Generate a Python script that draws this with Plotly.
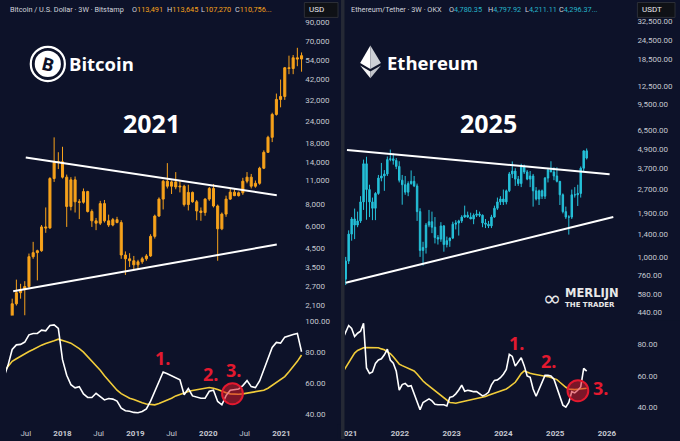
import plotly.graph_objects as go
import pandas as pd

W, H = 680, 441
BG = "#0d1229"
TICK = "#c5c8d0"
BTC_C = "#f7a21b"
ETH_C = "#25c1d9"
ETH_TXT = "#26b5c9"
WHITE_L = "#ffffff"
YEL_L = "#f1cc3a"
RED = "#e3192f"

# ---------------- Bitcoin (3W candles) ----------------
btc_start = "2017-03-13"
btc_open = [1050, 1200, 1550, 2150, 2490, 2600, 2700, 4010, 4230, 4340, 5950, 5870, 11300, 14000, 14100,
            11500, 7800, 11100, 8300, 8250, 9500, 7300, 6450, 6250, 8100, 6450, 6100, 6550, 6300, 4100,
            3900, 3800, 3600, 3750, 3900, 4050, 5250, 6870, 8600, 10900, 10200, 10800, 10100, 10200, 8000,
            9400, 8300, 7350, 7200, 8600, 9900, 7850, 5800, 7050, 8600, 9430, 9000, 9350, 10900, 11500,
            10200, 10600, 12950, 15980, 19500, 26400, 32200, 33500, 49000, 48500, 55900, 55000]
btc_high = [1300, 1550, 2300, 2960, 2800, 2900, 4180, 4880, 4400, 6100, 7700, 11500, 19480, 16000, 17200,
            11900, 11500, 11600, 8600, 9900, 9600, 7500, 6700, 8400, 8500, 7000, 6700, 6800, 6500, 4300,
            4200, 4050, 3850, 4000, 4150, 5400, 7000, 8800, 11100, 13850, 11000, 12300, 10900, 10400, 10400,
            9500, 8500, 7700, 8700, 10100, 10500, 8000, 7200, 9000, 9900, 9900, 9500, 11400, 12300, 12000,
            11000, 13200, 16400, 19900, 27000, 34800, 41900, 49500, 57500, 58000, 63800, 60000]
btc_low = [950, 1150, 1500, 2100, 2300, 1840, 2650, 3900, 2930, 4280, 5500, 5800, 10800, 12800, 11300,
           5950, 7400, 7200, 6600, 8100, 7200, 5950, 5700, 6100, 6300, 5950, 6000, 6250, 3900, 3150,
           3500, 3350, 3380, 3650, 3800, 4000, 5100, 6800, 7500, 9900, 9200, 9800, 9400, 7800, 7400,
           8200, 6500, 6450, 6900, 8400, 7700, 3800, 5700, 6800, 8500, 8950, 8900, 9100, 10600, 9900,
           10000, 10400, 12800, 15900, 18300, 26000, 29000, 32000, 45000, 45000, 50000, 46500]
btc_close = [1200, 1550, 2150, 2490, 2600, 2700, 4010, 4230, 4340, 5950, 5870, 11300, 14000, 14100, 11500,
             7800, 11100, 8300, 8250, 9500, 7300, 6450, 6250, 8100, 6450, 6100, 6550, 6300, 4100, 3900,
             3800, 3600, 3750, 3900, 4050, 5250, 6870, 8600, 10900, 10200, 10800, 10100, 10200, 8000, 9400,
             8300, 7350, 7200, 8600, 9900, 7850, 5800, 7050, 8600, 9430, 9000, 9350, 10900, 11500, 10200,
             10600, 12950, 15980, 19500, 26400, 32200, 33500, 49000, 48500, 55900, 55000, 57500]
btc_white = [63.9, 71.6, 81.9, 84.9, 85.2, 86.7, 91.4, 92.3, 92.3, 94.4, 94.0, 97.4, 97.8, 95.5, 75.3,
             65.2, 59.1, 57.0, 57.8, 53.1, 50.8, 50.8, 53.5, 51.6, 49.2, 50.1, 49.7, 48.4, 43.9, 42.2,
             41.9, 41.1, 40.9, 41.7, 43.4, 48.4, 54.4, 61.3, 67.3, 66.2, 64.9, 63.4, 62.2, 52.5, 56.6,
             51.8, 51.0, 50.3, 50.3, 54.8, 55.5, 48.2, 46.0, 52.0, 55.5, 55.7, 56.3, 58.5, 61.7, 57.8,
             57.2, 61.5, 68.6, 77.0, 83.2, 86.5, 86.0, 89.9, 91.0, 91.6, 92.3, 80.4]
btc_yellow = [67.5, 70.8, 74.2, 75.9, 77.6, 79.4, 80.6, 81.9, 83.4, 84.7, 85.8, 86.5, 87.5, 88.6, 88.0,
              86.9, 86.0, 84.3, 82.4, 80.2, 77.4, 74.6, 71.6, 68.4, 64.9, 61.9, 58.7, 55.5, 53.3, 51.6,
              50.3, 49.5, 48.2, 47.3, 46.5, 46.2, 46.0, 46.9, 48.0, 49.0, 50.3, 51.8, 52.9, 54.0, 54.6,
              55.3, 55.9, 56.6, 56.8, 57.2, 56.8, 55.9, 54.6, 53.8, 53.1, 52.9, 52.9, 53.1, 53.5, 54.0,
              54.4, 54.8, 55.5, 56.8, 58.7, 60.4, 62.4, 64.3, 67.5, 70.5, 74.2, 78.3]
btc_up_dates = ["2017-07-01", "2020-12-09"]
btc_up_vals = [14900, 9060]
btc_lo_dates = ["2017-04-29", "2020-12-09"]
btc_lo_vals = [2535, 4710]
btc_yticks = [2100, 2700, 3500, 4500, 6000, 8000, 11000, 14000, 18000, 24000, 32000, 42000, 54000, 70000, 90000]
btc_ind_ticks = [40, 60, 80, 100]
btc_xtick_vals = ["2017-07-01", "2018-01-01", "2018-07-01", "2019-01-01", "2019-07-01", "2020-01-01",
                  "2020-07-01", "2021-01-01"]
btc_xtick_text = ["Jul", "<b>2018</b>", "Jul", "<b>2019</b>", "Jul", "<b>2020</b>", "Jul", "<b>2021</b>"]
btc_xrange = ["2017-03-24", "2021-04-26"]

# ---------------- Ethereum (3W candles) ----------------
eth_start = "2020-11-23"
eth_open = [560, 720, 940, 1400, 1750, 1600, 1700, 2250, 3950, 2700, 2250, 2050, 2550, 3200, 3300, 3400,
            4200, 4250, 4150, 3800, 3100, 2900, 2600, 2950, 3050, 2850, 1950, 1100, 1150, 1600, 1680,
            1550, 1330, 1300, 1580, 1200, 1270, 1320, 1620, 1650, 1700, 1800, 1850, 1800, 1750, 1850,
            1880, 1850, 1650, 1620, 1580, 1800, 2050, 2250, 2350, 2250, 2650, 3400, 3550, 3150, 2950,
            3800, 3500, 3150, 3300, 2650, 2350, 2650, 2450, 3200, 3600, 3500, 3300, 3050, 2500, 1950,
            1800, 1800, 2500, 2500, 2550, 3700, 4780]
eth_high = [750, 1000, 1480, 1800, 2040, 1950, 2450, 4200, 4380, 2900, 2400, 2600, 3350, 4000, 3600, 4400,
            4870, 4600, 4300, 4100, 3350, 3300, 3050, 3580, 3300, 2950, 2050, 1250, 1650, 2000, 1950,
            1800, 1380, 1670, 1600, 1350, 1330, 1680, 1720, 1730, 1850, 2130, 1950, 1920, 1900, 2000,
            1950, 1870, 1750, 1700, 1860, 2130, 2400, 2450, 2700, 2700, 3500, 4090, 3700, 3300, 3950,
            3900, 3600, 3550, 3400, 2800, 2700, 2700, 3250, 3700, 4100, 3750, 3750, 3050, 2550, 2100,
            1850, 2700, 2800, 2900, 3800, 4800, 4950]
eth_low = [530, 660, 900, 1270, 1300, 1550, 1650, 2000, 1730, 1800, 1720, 1720, 2500, 3050, 2650, 3300,
           4100, 3900, 3650, 3000, 2160, 2500, 2450, 2900, 2800, 1700, 1000, 880, 1050, 1550, 1420,
           1220, 1200, 1250, 1080, 1150, 1160, 1300, 1500, 1370, 1650, 1780, 1780, 1750, 1620, 1800,
           1800, 1550, 1530, 1530, 1530, 1780, 2000, 2150, 2150, 2170, 2600, 3200, 2850, 2850, 2800,
           3400, 3100, 2800, 2100, 2300, 2150, 2350, 2350, 3000, 3500, 3100, 3000, 2150, 1900, 1750,
           1390, 1750, 2400, 2120, 2400, 3500, 4211]
eth_close = [720, 940, 1400, 1750, 1600, 1700, 2250, 3950, 2700, 2250, 2050, 2550, 3200, 3300, 3400, 4200,
             4250, 4150, 3800, 3100, 2900, 2600, 2950, 3050, 2850, 1950, 1100, 1150, 1600, 1680, 1550,
             1330, 1300, 1580, 1200, 1270, 1320, 1620, 1650, 1700, 1800, 1850, 1800, 1750, 1850, 1880,
             1850, 1650, 1620, 1580, 1800, 2050, 2250, 2350, 2250, 2650, 3400, 3550, 3150, 2950, 3800,
             3500, 3150, 3300, 2650, 2350, 2650, 2450, 3200, 3600, 3500, 3300, 3050, 2500, 1950, 1800,
             1800, 2500, 2500, 2550, 3700, 4780, 4296]
eth_white = [83.6, 88.3, 92.1, 90.2, 85.1, 87.2, 88.5, 93.5, 65.0, 61.5, 62.5, 67.9, 70.1, 70.9, 73.4,
             77.0, 70.1, 68.1, 62.9, 50.8, 54.4, 55.2, 53.3, 53.7, 48.7, 43.0, 38.3, 43.0, 44.4, 45.3,
             44.0, 41.9, 41.5, 41.5, 41.5, 40.8, 46.3, 46.8, 48.5, 51.0, 54.0, 50.2, 50.8, 50.4, 49.9,
             49.9, 48.3, 47.2, 48.0, 49.5, 54.2, 57.1, 57.4, 58.8, 61.0, 64.1, 73.7, 72.4, 66.2, 68.6,
             71.5, 66.5, 59.9, 59.0, 51.6, 47.0, 51.4, 55.2, 60.3, 60.3, 59.9, 57.8, 52.3, 45.5, 41.3,
             40.0, 43.0, 49.9, 49.1, 50.8, 52.9, 64.8, 63.0]
eth_yellow = [62.2, 65.4, 68.8, 71.7, 74.5, 76.2, 77.2, 77.9, 78.1, 78.1, 78.1, 77.9, 77.9, 77.2, 76.6,
              75.3, 74.1, 72.2, 69.8, 67.5, 66.5, 65.6, 64.8, 63.9, 63.1, 61.2, 58.6, 56.7, 55.0, 53.5,
              52.1, 50.4, 48.7, 47.2, 45.7, 44.4, 43.0, 42.8, 42.5, 43.0, 43.4, 44.0, 44.4, 45.1, 45.5,
              45.9, 46.1, 46.6, 46.8, 47.6, 48.3, 48.9, 49.5, 50.2, 50.8, 51.6, 52.9, 54.2, 55.9, 58.6,
              61.4, 63.1, 62.2, 61.6, 61.2, 60.7, 60.3, 60.1, 59.7, 59.5, 58.8, 58.2, 57.6, 55.9, 54.0,
              52.7, 51.6, 51.2, 51.2, 51.4, 51.6, 51.9, 52.1]
eth_up_dates = ["2020-12-23", "2026-01-20"]
eth_up_vals = [4840, 3390]
eth_lo_dates = ["2020-12-14", "2026-02-15"]
eth_lo_vals = [683, 1800]
eth_yticks = [440, 580, 760, 1000, 1400, 1900, 2700, 3700, 4900, 6500, 9500, 12500, 18500, 24500, 32500]
eth_ind_ticks = [40, 60, 80]
eth_xtick_vals = ["2021-01-01", "2022-01-01", "2023-01-01", "2024-01-01", "2025-01-01", "2026-01-01"]
eth_xtick_text = ["<b>2021</b>", "<b>2022</b>", "<b>2023</b>", "<b>2024</b>", "<b>2025</b>", "<b>2026</b>"]
eth_xrange = ["2020-12-09", "2026-07-28"]

# ---------------- texts ----------------
btc_pair = "Bitcoin / U.S. Dollar · 3W · Bitstamp"
btc_ohlc = ["113,491", "113,645", "107,270", "110,756..."]
eth_pair = "Ethereum/Tether · 3W · OKX"
eth_ohlc = ["4,780.35", "4,797.92", "4,211.11", "4,296.37..."]
ohlc_labels = ["O", "H", "L", "C"]

btc_dates = pd.date_range(btc_start, periods=len(btc_open), freq="21D")
eth_dates = pd.date_range(eth_start, periods=len(eth_open), freq="21D")


def px(x):
    return x / W


def py(y):
    return 1 - y / H


fig = go.Figure()


def candles(dates, o, h, l, c, col, xa, ya):
    return go.Candlestick(
        x=dates, open=o, high=h, low=l, close=c, xaxis=xa, yaxis=ya,
        increasing=dict(line=dict(color=col, width=1), fillcolor=col),
        decreasing=dict(line=dict(color=col, width=1), fillcolor=col),
        showlegend=False, hoverinfo="skip")


def line(x, y, col, w, xa, ya):
    return go.Scatter(x=x, y=y, mode="lines", line=dict(color=col, width=w),
                      xaxis=xa, yaxis=ya, showlegend=False, hoverinfo="skip")


fig.add_trace(candles(btc_dates, btc_open, btc_high, btc_low, btc_close, BTC_C, "x", "y"))
fig.add_trace(line(btc_up_dates, btc_up_vals, "white", 2, "x", "y"))
fig.add_trace(line(btc_lo_dates, btc_lo_vals, "white", 2, "x", "y"))
fig.add_trace(line(btc_dates, btc_yellow, YEL_L, 1.6, "x2", "y2"))
fig.add_trace(line(btc_dates, btc_white, WHITE_L, 1.6, "x2", "y2"))

fig.add_trace(candles(eth_dates, eth_open, eth_high, eth_low, eth_close, ETH_C, "x3", "y3"))
fig.add_trace(line(eth_up_dates, eth_up_vals, "white", 2, "x3", "y3"))
fig.add_trace(line(eth_lo_dates, eth_lo_vals, "white", 2, "x3", "y3"))
fig.add_trace(line(eth_dates, eth_yellow, YEL_L, 1.6, "x4", "y4"))
fig.add_trace(line(eth_dates, eth_white, WHITE_L, 1.6, "x4", "y4"))

common = dict(showgrid=False, zeroline=False, showline=False, ticks="", fixedrange=True)
tf = dict(size=8, color=TICK, family="Roboto")
LDOM = [0, px(301)]
RDOM = [px(342), px(636)]
PDOM_L = [py(317), py(15)]
PDOM_R = [py(317), py(17)]
IDOM = [py(429), py(319)]

fig.update_layout(
    width=W, height=H, margin=dict(l=0, r=0, t=0, b=0),
    paper_bgcolor=BG, plot_bgcolor=BG, showlegend=False,
    font=dict(family="Roboto", color=TICK, size=8),
    xaxis=dict(domain=LDOM, range=btc_xrange, anchor="y", type="date", showticklabels=False,
               rangeslider=dict(visible=False), **common),
    xaxis2=dict(domain=LDOM, range=btc_xrange, anchor="y2", type="date", tickvals=btc_xtick_vals,
                ticktext=btc_xtick_text, tickfont=tf, **common),
    yaxis=dict(domain=PDOM_L, type="log", range=[3.2645, 4.994], side="right", anchor="x",
               tickvals=btc_yticks, ticktext=[f"{v:,}" for v in btc_yticks], tickfont=tf, **common),
    yaxis2=dict(domain=IDOM, range=[31.6, 102.6], side="right", anchor="x2",
                tickvals=btc_ind_ticks, ticktext=[f"{v:.2f}" for v in btc_ind_ticks], tickfont=tf, **common),
    xaxis3=dict(domain=RDOM, range=eth_xrange, anchor="y3", type="date", showticklabels=False,
                rangeslider=dict(visible=False), **common),
    xaxis4=dict(domain=RDOM, range=eth_xrange, anchor="y4", type="date", tickvals=eth_xtick_vals,
                ticktext=eth_xtick_text, tickfont=tf, **common),
    yaxis3=dict(domain=PDOM_R, type="log", range=[2.6242, 4.5375], side="right", anchor="x3",
                tickvals=eth_yticks, ticktext=[f"{v:,.2f}" for v in eth_yticks], tickfont=tf, **common),
    yaxis4=dict(domain=IDOM, range=[27.3, 97.2], side="right", anchor="x4",
                tickvals=eth_ind_ticks, ticktext=[f"{v:.2f}" for v in eth_ind_ticks], tickfont=tf, **common),
)

shapes = []


def rect(x0, y0, x1, y1, fill, lc=None, lw=0):
    return dict(type="rect", xref="paper", yref="paper", x0=px(x0), x1=px(x1), y0=py(y1), y1=py(y0),
                fillcolor=fill, line=dict(color=lc or fill, width=lw), layer="above")


def circ(cx, cy, r, fill, lc, lw):
    return dict(type="circle", xref="paper", yref="paper", x0=px(cx - r), x1=px(cx + r),
                y0=py(cy + r), y1=py(cy - r), fillcolor=fill, line=dict(color=lc, width=lw), layer="above")


def poly(pts, fill):
    d = "M " + " L ".join(f"{px(a):.5f},{py(b):.5f}" for a, b in pts) + " Z"
    return dict(type="path", xref="paper", yref="paper", path=d, fillcolor=fill,
                line=dict(width=0), layer="above")


# panel divider and clipping
shapes.append(rect(334, 426, 338, 441, BG))
shapes.append(rect(338, 0, 341.5, 441, "#252935"))
shapes.append(rect(636, 0, 680, 18.5, BG))
shapes.append(rect(636, 316.5, 680, 322, BG))
# badges
shapes.append(rect(301, 2.5, 335, 17.5, "#0f1116", "#2c2f38", 1))
shapes.append(rect(637, 2.5, 675, 17.5, "#0f1116", "#2c2f38", 1))
# bitcoin logo
shapes.append(circ(42.2, 64.2, 17.2, "rgba(0,0,0,0)", "white", 2.2))
shapes.append(circ(42.2, 64.2, 13.2, "white", "white", 0))
# ethereum logo
shapes.append(poly([(367.6, 45.7), (357.3, 63.3), (367.6, 69.3)], "#ffffff"))
shapes.append(poly([(367.6, 45.7), (378.3, 63.3), (367.6, 69.3)], "#cdd0d6"))
shapes.append(poly([(357.3, 65.8), (367.6, 78.5), (367.6, 71.8)], "#f2f2f2"))
shapes.append(poly([(378.3, 65.8), (367.6, 78.5), (367.6, 71.8)], "#c2c5cb"))
# red circles
shapes.append(circ(228.5, 395.5, 10.5, "rgba(215,25,40,0.55)", RED, 2))
shapes.append(circ(577, 392.5, 10.5, "rgba(215,25,40,0.55)", RED, 2))
fig.update_layout(shapes=shapes)

ann = []


def txt(x, y, t, size, color, xanchor="left", family="Roboto", angle=0):
    return dict(x=px(x), y=py(y), xref="paper", yref="paper", text=t, showarrow=False,
                xanchor=xanchor, yanchor="middle", textangle=angle, borderpad=0,
                font=dict(size=size, color=color, family=family))


HDR = "#d1d4dc"
HS = 7.3
ann.append(txt(3, 10, btc_pair, HS, HDR))
for xpos, lab, v in zip([126, 161, 196, 230], ohlc_labels, btc_ohlc):
    ann.append(txt(xpos, 10, f'{lab}<span style="color:{BTC_C}">{v}</span>', HS, HDR))
ann.append(txt(346.7, 10, eth_pair, HS, HDR))
for xpos, lab, v in zip([446, 485, 522.5, 556.5], ohlc_labels, eth_ohlc):
    ann.append(txt(xpos, 10, f'{lab}<span style="color:{ETH_TXT}">{v}</span>', HS, HDR))
ann.append(txt(305, 10, "USD", 8, "#e6e8ee"))
ann.append(txt(641, 10, "USDT", 8, "#e6e8ee"))

ann.append(txt(42.6, 64.6, "<b>B</b>", 18, BG, "center", "Open Sans", 14))
ann.append(txt(63, 64, "<b>Bitcoin</b>", 18.5, "white", "left", "Open Sans"))
ann.append(txt(147, 124, "<b>2021</b>", 25, "white", "center", "Open Sans"))
ann.append(txt(383, 63, "<b>Ethereum</b>", 18.5, "white", "left", "Open Sans"))
ann.append(txt(487, 124, "<b>2025</b>", 25, "white", "center", "Open Sans"))

ann.append(txt(551, 299.5, "∞", 22, "#e8e8e8", "center", "DejaVu Sans"))
ann.append(txt(563, 294.5, "<b>MERLIJN</b>", 11.5, "#e8e8e8", "left", "DejaVu Sans"))
ann.append(txt(563, 306.5, "<b>THE TRADER</b>", 7, "#e8e8e8", "left", "DejaVu Sans"))

for x, y, t in [(157.5, 360, "1."), (206, 376, "2."), (230, 372, "3."),
                (515, 345, "1."), (547, 363, "2."), (600, 390, "3.")]:
    ann.append(txt(x, y, f"<b>{t}</b>", 18, RED, "center", "Open Sans"))

fig.update_layout(annotations=ann)

fig.write_html("out.html", config={"displayModeBar": False},
               post_script="document.body.style.margin='0';document.body.style.overflow='hidden';")
